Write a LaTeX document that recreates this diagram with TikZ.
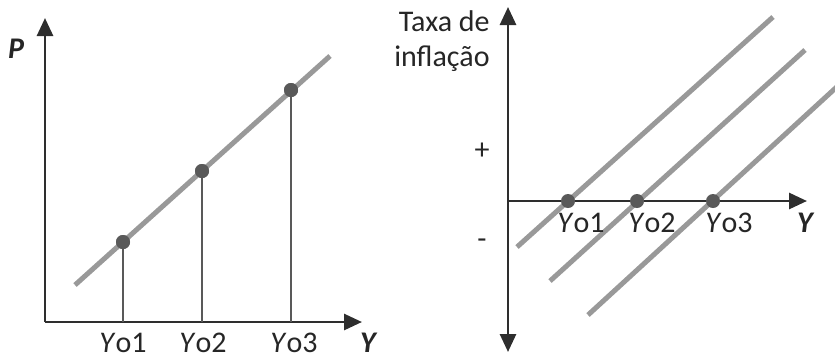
\documentclass[tikz,border=0pt]{standalone}
\usepackage{fontspec}
\setmainfont{Carlito}
\usetikzlibrary{arrows.meta}
\begin{document}
\begin{tikzpicture}[x=0.5pt,y=-0.5pt,
  axis/.style={line width=1.4pt,draw=black!82,-{Triangle[length=9pt,width=8pt]}},
  curve/.style={line width=2.5pt,draw=black!40},
  drop/.style={line width=0.8pt,draw=black!65},
  dot/.style={circle,fill=black!65,inner sep=0pt,minimum size=7pt},
  lbl/.style={font=\fontsize{15}{17.5}\selectfont,text=black!85,inner sep=0pt},
  blbl/.style={lbl,font=\fontsize{15}{17.5}\selectfont\bfseries\itshape},
]
\useasboundingbox (0,0) rectangle (835,360);
% ---------- left panel ----------
\coordinate (O1) at (45,322);
\coordinate (Ptop) at (45,18);
\coordinate (Yend) at (362,322);
\draw[axis] (O1) -- (Ptop);
\draw[axis] (O1) -- (Yend);
\coordinate (LA) at (75,285);
\coordinate (LB) at (330,56);
\draw[curve] (LA) -- (LB);
\node[dot] (d1) at (123,242) {};
\node[dot] (d2) at (202,171) {};
\node[dot] (d3) at (291,90) {};
\coordinate (b1) at (123,322);
\coordinate (b2) at (202,322);
\coordinate (b3) at (291,322);
\draw[drop] (d1.center) -- (b1);
\draw[drop] (d2.center) -- (b2);
\draw[drop] (d3.center) -- (b3);
\node[dot] at (123,242) {};
\node[dot] at (202,171) {};
\node[dot] at (291,90) {};
\node[blbl] (P) at (16,49) {P};
\node[lbl] (ly1) at (123,343) {\textit{Y}o1};
\node[lbl] (ly2) at (203,343) {\textit{Y}o2};
\node[lbl] (ly3) at (294,343) {\textit{Y}o3};
\node[blbl] (LY) at (368,343) {Y};
% ---------- right panel ----------
\coordinate (Rtop) at (508,7);
\coordinate (Rbot) at (508,352);
\coordinate (O2) at (508,201);
\coordinate (Rend) at (807,201);
\draw[axis,{Triangle[length=9pt,width=8pt]}-{Triangle[length=9pt,width=8pt]}] (Rbot) -- (Rtop);
\draw[axis] (O2) -- (Rend);
\coordinate (r1a) at (517,247); \coordinate (r1b) at (773,17);
\coordinate (r2a) at (550,281); \coordinate (r2b) at (805,50);
\coordinate (r3a) at (588,315); \coordinate (r3b) at (840,84);
\draw[curve] (r1a) -- (r1b);
\draw[curve] (r2a) -- (r2b);
\draw[curve] (r3a) -- (r3b);
\node[dot] (e1) at (568,201) {};
\node[dot] (e2) at (637,201) {};
\node[dot] (e3) at (713,201) {};
\node[lbl] (ry1) at (581,223) {\textit{Y}o1};
\node[lbl] (ry2) at (652,223) {\textit{Y}o2};
\node[lbl] (ry3) at (729,223) {\textit{Y}o3};
\node[blbl] (RY) at (805,223) {Y};
\node[lbl,align=right,anchor=east] (tax) at (490,41) {Taxa de\\inflação};
\node[lbl] (plus) at (482,151) {+};
\node[lbl] (minus) at (482,244) {-};
\end{tikzpicture}
\end{document}
